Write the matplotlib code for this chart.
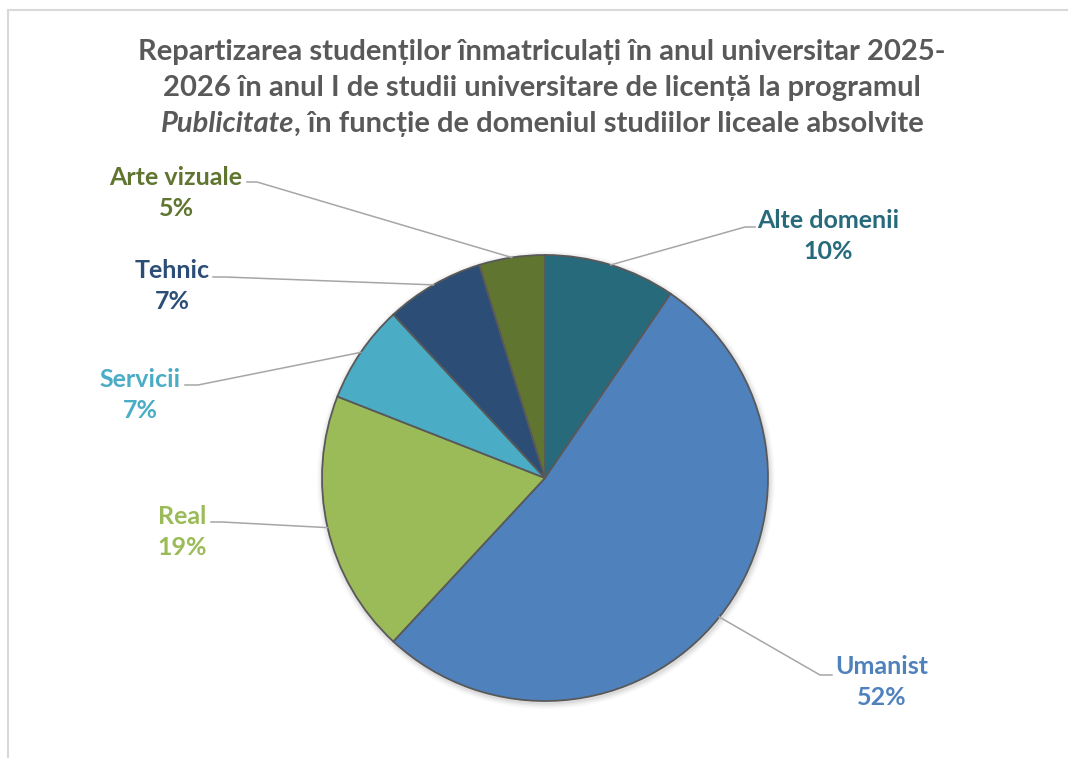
import numpy as np
import matplotlib
matplotlib.use("Agg")
import matplotlib.pyplot as plt
from matplotlib.patches import Rectangle

# date
categorii = ['Alte domenii', 'Umanist', 'Real', 'Servicii', 'Tehnic', 'Arte vizuale']
studenti = [4, 22, 8, 3, 3, 2]
culori = ['#276a7c', '#4f81bd', '#9bbb59', '#4bacc6', '#2c4d75', '#5f7530']
titlu_r1 = 'Repartizarea studenților înmatriculați în anul universitar 2025-'
titlu_r2 = '2026 în anul I de studii universitare de licență la programul'
titlu_r3_italic = 'Publicitate'
titlu_r3 = ', în funcție de domeniul studiilor liceale absolvite'

W, H = 1068, 758
FONT = 'Lato'
GRI = '#595959'

# pozitii etichete (pixeli, de sus): centru text, cot, capat linie
pozitii = {
    'Alte domenii': ((828, 236), (745, 227), (755, 227)),
    'Umanist':      ((882, 682), (820, 675), (832, 675)),
    'Real':         ((182, 532), (222, 522), (211, 522)),
    'Servicii':     ((140, 395), (198, 385), (185, 385)),
    'Tehnic':       ((172, 286), (225, 277), (213, 277)),
    'Arte vizuale': ((176, 193), (257, 182), (247, 182)),
}

def px(x, y):
    return x, H - y

fig = plt.figure(figsize=(W / 100, H / 100), dpi=100)
ax = fig.add_axes([0, 0, 1, 1])

# chenar
ax.add_patch(Rectangle(px(7.5, 800), 1200, 800 - 9.5, fill=False,
                       edgecolor='#d9d9d9', lw=1.5))

cx, cy = px(545, 478)
raza = 223
# umbra discreta
for i, a in enumerate([0.05, 0.04, 0.03, 0.02]):
    ax.add_patch(plt.Circle((cx + 1, cy - 2), raza + 1.5 + i * 1.5,
                            color='black', alpha=a, lw=0, zorder=1))

wedges, _ = ax.pie(studenti, colors=culori, startangle=90, counterclock=False,
                   center=(cx, cy), radius=raza, frame=True,
                   wedgeprops=dict(edgecolor=GRI, linewidth=1.3, zorder=2))
ax.set_xlim(0, W)
ax.set_ylim(0, H)
ax.set_aspect('equal')
ax.axis('off')

total = sum(studenti)
for w, nume, val, c in zip(wedges, categorii, studenti, culori):
    mid = np.deg2rad((w.theta1 + w.theta2) / 2)
    x0 = cx + raza * np.cos(mid)
    y0 = cy + raza * np.sin(mid)
    (tx, ty), cot, capat = pozitii[nume]
    xs = [x0, px(*cot)[0], px(*capat)[0]]
    ys = [y0, px(*cot)[1], px(*capat)[1]]
    ax.plot(xs, ys, color='#a6a6a6', lw=1.1, zorder=3)
    ax.text(*px(tx, ty), f'{nume}\n{round(val / total * 100)}%', ha='center',
            va='center', color=c, fontsize=18, fontweight='bold',
            family=FONT, linespacing=1.38, zorder=4)

# titlu
ts = dict(ha='center', va='center', color=GRI, fontsize=21,
          fontweight='bold', family=FONT)
xc = 542
ax.text(*px(xc, 52), titlu_r1, **ts)
ax.text(*px(xc, 88), titlu_r2, **ts)

r = fig.canvas.get_renderer()
t1 = ax.text(0, 0, titlu_r3_italic, style='italic', **ts)
t2 = ax.text(0, 0, titlu_r3, **ts)
w1 = t1.get_window_extent(r).width
w2 = t2.get_window_extent(r).width
x_start = xc - (w1 + w2) / 2
t1.set_position(px(x_start + w1 / 2, 124))
t2.set_position(px(x_start + w1 + w2 / 2, 124))

fig.savefig('out.png', dpi=100, facecolor='white')
